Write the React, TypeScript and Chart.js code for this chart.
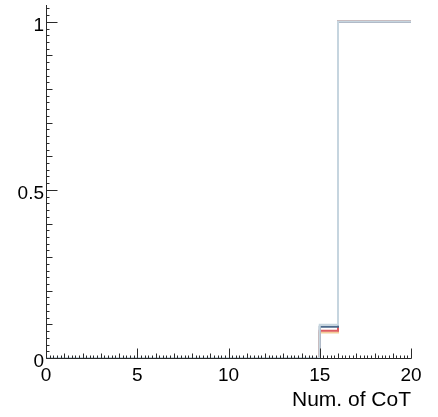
import { useEffect, useRef } from "react";
import { Chart, registerables } from "chart.js";

Chart.register(...registerables);

// Bin edges of the histogram (20 unit-wide bins from 0 to 20)
const binEdges = [0, 1, 2, 3, 4, 5, 6, 7, 8, 9, 10, 11, 12, 13, 14, 15, 16, 17, 18, 19, 20];

// Cumulative fraction per bin for each series
const seriesSteel = [0, 0, 0, 0, 0, 0, 0, 0, 0, 0, 0, 0, 0, 0, 0, 0.099, 1, 1, 1, 1];
const seriesNavy = [0, 0, 0, 0, 0, 0, 0, 0, 0, 0, 0, 0, 0, 0, 0, 0.093, 1, 1, 1, 1];
const seriesRed = [0, 0, 0, 0, 0, 0, 0, 0, 0, 0, 0, 0, 0, 0, 0, 0.081, 1, 1, 1, 1];
const seriesSand = [0, 0, 0, 0, 0, 0, 0, 0, 0, 0, 0, 0, 0, 0, 0, 0.076, 1, 1, 1, 1];

const xTickValues = [0, 5, 10, 15, 20];
const yTickValues = [0, 0.5, 1];
const xTitle = "Num. of CoT";

const FONT = "'Liberation Sans', Arial, Helvetica, sans-serif";

// Turn per-bin contents into step points: one point at each low edge,
// plus a closing point at the last upper edge.
function toSteps(values: number[]) {
  const pts = values.map((v, i) => ({ x: binEdges[i], y: v }));
  pts.push({ x: binEdges[binEdges.length - 1], y: values[values.length - 1] });
  return pts;
}

// Axis frame with inward-pointing major/medium/minor ticks, drawn above the data
const frameAxes = {
  id: "frameAxes",
  afterDatasetsDraw(chart: any) {
    const { ctx, chartArea: a, scales } = chart;
    const xs = scales.x;
    const ys = scales.y;
    ctx.save();
    ctx.strokeStyle = "#2a2a2a";
    ctx.lineWidth = 1;
    ctx.beginPath();
    const ax = Math.round(a.left) + 0.5;
    const ay = Math.round(a.bottom) + 0.5;
    ctx.moveTo(ax, a.top);
    ctx.lineTo(ax, ay);
    ctx.lineTo(Math.round(a.right) + 0.5, ay);
    // x: major every 5, medium every 1, minor every 0.2
    for (let i = 0; i <= 100; i++) {
      const px = Math.round(xs.getPixelForValue(i * 0.2)) + 0.5;
      const len = i % 25 === 0 ? 10 : i % 5 === 0 ? 5 : 3;
      ctx.moveTo(px, ay);
      ctx.lineTo(px, ay - len);
    }
    // y: major every 0.5, medium every 0.1, minor every 0.02
    for (let i = 0; i <= 52; i++) {
      const py = Math.round(ys.getPixelForValue(i * 0.02)) + 0.5;
      const len = i % 25 === 0 ? 11 : i % 5 === 0 ? 6 : 3;
      ctx.moveTo(ax, py);
      ctx.lineTo(ax + len, py);
    }
    ctx.stroke();
    ctx.restore();
  },
};

export default function App() {
  const canvasRef = useRef<HTMLCanvasElement | null>(null);

  useEffect(() => {
    if (!canvasRef.current) return;
    const mk = (label: string, values: number[], color: string, order: number) => ({
      label,
      data: toSteps(values),
      borderColor: color,
      backgroundColor: color,
      borderWidth: 2,
      pointRadius: 0,
      stepped: "before" as const,
      fill: false,
      order,
    });
    const chart = new Chart(canvasRef.current, {
      type: "line",
      data: {
        datasets: [
          mk("sand", seriesSand, "#f2cd98", 3),
          mk("red", seriesRed, "#de5d62", 2),
          mk("navy", seriesNavy, "#4d6a8c", 1),
          mk("steel", seriesSteel, "#c6d5df", 0),
        ],
      },
      options: {
        animation: false,
        responsive: true,
        maintainAspectRatio: false,
        layout: { padding: { top: 5, right: 27, bottom: 0, left: 0 } },
        plugins: { legend: { display: false }, tooltip: { enabled: false } },
        scales: {
          x: {
            type: "linear",
            min: 0,
            max: 20,
            grid: { display: false, drawTicks: false },
            border: { display: false },
            afterFit: (s: any) => {
              s.height = 59;
              s.paddingLeft = 0;
              s.paddingRight = 0;
            },
            afterBuildTicks: (s: any) => {
              s.ticks = xTickValues.map((v) => ({ value: v }));
            },
            ticks: {
              color: "#000",
              font: { family: FONT, size: 19 },
              padding: 6,
              maxRotation: 0,
              callback: (v: any) => String(v),
            },
            title: {
              display: true,
              text: xTitle,
              align: "end",
              color: "#000",
              font: { family: FONT, size: 21 },
              padding: { top: 0, bottom: 4 },
            },
          },
          y: {
            type: "linear",
            min: 0,
            max: 1.05,
            grid: { display: false, drawTicks: false },
            border: { display: false },
            afterFit: (s: any) => {
              s.width = 46;
              s.paddingTop = 0;
              s.paddingBottom = 0;
            },
            afterBuildTicks: (s: any) => {
              s.ticks = yTickValues.map((v) => ({ value: v }));
            },
            ticks: {
              color: "#000",
              font: { family: FONT, size: 19 },
              padding: 2,
              labelOffset: 4,
              callback: (v: any) => String(v),
            },
          },
        },
      },
      plugins: [frameAxes],
    });
    return () => chart.destroy();
  }, []);

  return (
    <div style={{ position: "fixed", left: 0, top: 0, width: 438, height: 417, background: "#fff" }}>
      <canvas ref={canvasRef} />
    </div>
  );
}
